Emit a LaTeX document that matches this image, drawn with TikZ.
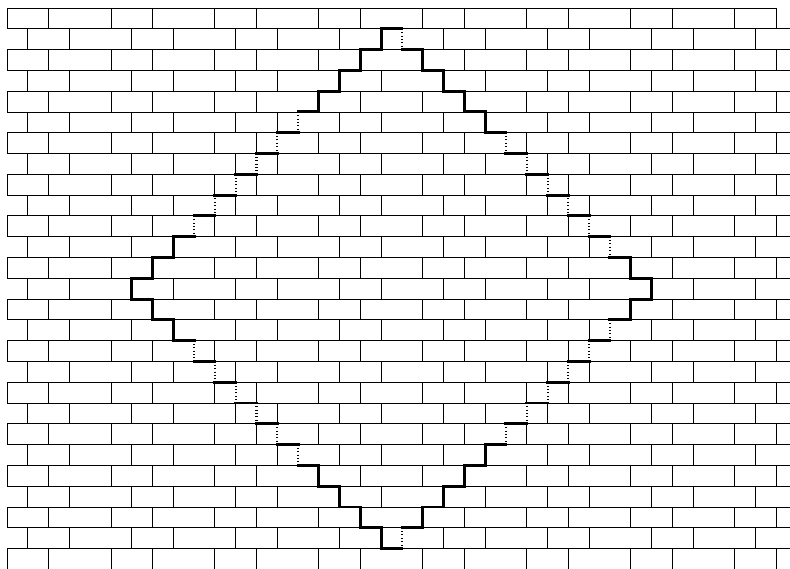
\documentclass[tikz,border=0pt]{standalone}

\begin{document}
\begin{tikzpicture}[
    x=5mm, y=-5mm,
    brick/.style={draw=black, line width=0.6pt},
    solidedge/.style={draw=black, line width=2pt, line cap=rect},
    dottededge/.style={draw=black, line width=1.4pt, dash pattern=on 0.7pt off 1.6pt}
]

\clip (-0.337,-0.385) rectangle (37.663,26.97);

% the wall: even rows start at 0, odd rows are shifted by one unit
\foreach \r in {0,2,...,26} {
  \foreach \k in {0,...,7}
    \draw[brick] (5*\k,\r) rectangle ++(2,1);
  \foreach \k in {0,...,6}
    \draw[brick] (5*\k+2,\r) rectangle ++(3,1);
}
\foreach \r in {1,3,...,25} {
  \foreach \k in {0,...,7}
    \draw[brick] (5*\k+1,\r) rectangle ++(2,1);
  \foreach \k in {0,...,6}
    \draw[brick] (5*\k+3,\r) rectangle ++(3,1);
}

% treads of the diamond
\foreach \x in {6,...,18} {
  \draw[solidedge] (\x,19-\x) -- ++(1,0);
  \draw[solidedge] (\x,\x+8) -- ++(1,0);
}
\foreach \x in {19,...,30} {
  \draw[solidedge] (\x,\x-17) -- ++(1,0);
  \draw[solidedge] (\x,44-\x) -- ++(1,0);
}

% risers, left half
\foreach \x in {6,7,8,15,16,17,18} {
  \draw[solidedge] (\x,19-\x) -- ++(0,1);
  \draw[solidedge] (\x,\x+7) -- ++(0,1);
}
\foreach \x in {9,...,14} {
  \draw[dottededge] (\x,19-\x) -- ++(0,1);
  \draw[dottededge] (\x,\x+7) -- ++(0,1);
}

% risers, right half
\foreach \x in {20,21,22,23,30,31} {
  \draw[solidedge] (\x,\x-18) -- ++(0,1);
  \draw[solidedge] (\x,44-\x) -- ++(0,1);
}
\foreach \x in {19,24,25,26,27,28,29} {
  \draw[dottededge] (\x,\x-18) -- ++(0,1);
  \draw[dottededge] (\x,44-\x) -- ++(0,1);
}

\end{tikzpicture}
\end{document}
